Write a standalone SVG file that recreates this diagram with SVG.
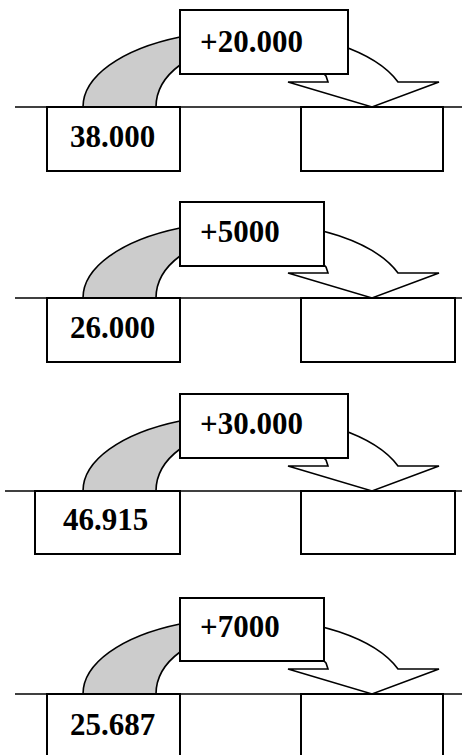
<svg xmlns="http://www.w3.org/2000/svg" width="462" height="755" viewBox="0 0 462 755">
<style>
.ln{stroke:#000;stroke-width:1.4;fill:none}
.bx{fill:#fff;stroke:#000;stroke-width:2}
.gr{fill:#ccc;stroke:#000;stroke-width:1.6;stroke-linejoin:round}
.wh{fill:#fff;stroke:#000;stroke-width:1.6;stroke-linejoin:miter}
.t{font-family:"Liberation Serif","Times New Roman",serif;font-weight:bold;font-size:31px;fill:#000}
</style>
<defs>
<path id="garc" class="gr" d="M83,0 A162,76.4 0 0 1 180,-70 L180,-42 A89,61.5 0 0 0 156,0 Z"/>
<path id="warc" class="wh" d="M245,-76.4 A162,76.4 0 0 1 398,-25 L439,-25 L372,0 L288,-25 L328,-25 L326,-31 A89,61.5 0 0 0 245,-61.5 Z"/>
</defs>
<g id="connectors">
<line class="ln" x1="15" y1="107" x2="462" y2="107"/>
<line class="ln" x1="15" y1="298" x2="462" y2="298"/>
<line class="ln" x1="5" y1="491" x2="462" y2="491"/>
<line class="ln" x1="15" y1="694" x2="462" y2="694"/>
<use href="#garc" transform="translate(0,107)"/>
<use href="#warc" transform="translate(0,107)"/>
<use href="#garc" transform="translate(0,298)"/>
<use href="#warc" transform="translate(0,298)"/>
<use href="#garc" transform="translate(0,491)"/>
<use href="#warc" transform="translate(0,491)"/>
<use href="#garc" transform="translate(0,694)"/>
<use href="#warc" transform="translate(0,694)"/>
</g>
<g id="p1-add"><rect class="bx" x="180" y="10" width="168" height="64"/><text class="t" x="200" y="52">+20.000</text></g>
<g id="p1-start"><rect class="bx" x="47" y="107" width="133" height="64"/><text class="t" x="70" y="147">38.000</text></g>
<g id="p1-result"><rect class="bx" x="301" y="107" width="142" height="64"/></g>

<g id="p2-add"><rect class="bx" x="180" y="202" width="144" height="64"/><text class="t" x="200" y="242">+5000</text></g>
<g id="p2-start"><rect class="bx" x="47" y="298" width="133" height="64"/><text class="t" x="70" y="338">26.000</text></g>
<g id="p2-result"><rect class="bx" x="301" y="298" width="154" height="64"/></g>

<g id="p3-add"><rect class="bx" x="180" y="394" width="168" height="64"/><text class="t" x="200" y="434">+30.000</text></g>
<g id="p3-start"><rect class="bx" x="35" y="491" width="145" height="63"/><text class="t" x="63" y="530">46.915</text></g>
<g id="p3-result"><rect class="bx" x="301" y="491" width="154" height="63"/></g>

<g id="p4-add"><rect class="bx" x="180" y="598" width="144" height="63"/><text class="t" x="200" y="637">+7000</text></g>
<g id="p4-start"><rect class="bx" x="47" y="694" width="133" height="70"/><text class="t" x="70" y="735">25.687</text></g>
<g id="p4-result"><rect class="bx" x="301" y="694" width="142" height="70"/></g>
</svg>
